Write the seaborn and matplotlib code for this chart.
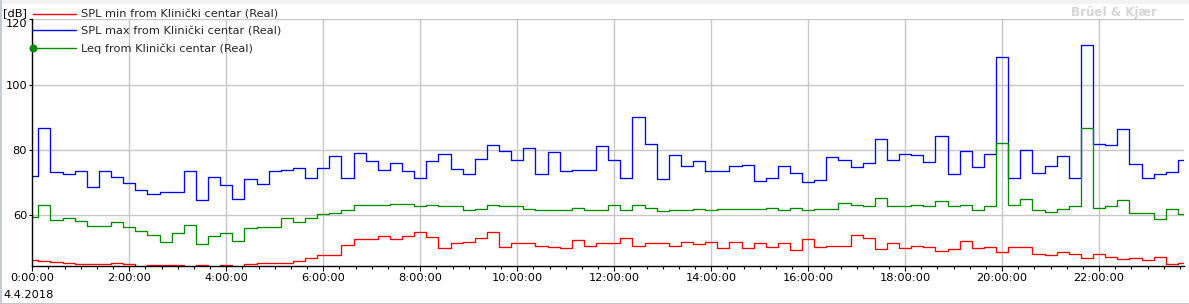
import numpy as np
import pandas as pd
import matplotlib
matplotlib.use("Agg")
import matplotlib.pyplot as plt
import matplotlib.ticker as mticker
from matplotlib.patches import Rectangle
import seaborn as sns

# ---- data: 15-minute intervals on 4.4.2018, values in dB ----
spl_max = [72.2, 86.9, 73.2, 72.6, 73.5, 68.6, 73.5, 71.9, 69.8, 67.7, 66.4, 67.3,
           67.3, 73.5, 64.6, 71.9, 69.2, 64.9, 71.0, 69.5, 73.5, 74.0, 74.4, 71.3,
           74.4, 78.1, 71.6, 79.0, 76.8, 73.8, 75.9, 73.5, 71.3, 76.8, 78.7, 74.1,
           72.6, 77.4, 81.4, 79.6, 77.1, 80.5, 72.6, 79.3, 73.5, 73.8, 73.8, 81.1,
           77.1, 71.3, 90.0, 82.0, 71.0, 78.4, 75.0, 76.8, 73.5, 73.5, 75.0, 75.3,
           70.4, 71.3, 75.0, 72.9, 70.1, 70.7, 77.8, 77.1, 74.7, 75.9, 83.3, 77.1,
           78.7, 78.4, 76.2, 84.2, 72.6, 79.6, 74.7, 78.7, 108.4, 71.6, 79.9, 72.9,
           75.0, 78.1, 71.3, 112.3, 82.0, 81.4, 86.3, 75.6, 71.6, 72.6, 73.2, 77.1]

leq = [59.4, 63.3, 58.5, 59.1, 58.2, 56.9, 56.9, 57.9, 56.3, 55.1, 53.9, 52.0,
       54.5, 57.2, 51.1, 53.6, 54.5, 52.3, 56.0, 56.6, 56.3, 59.1, 57.9, 59.1,
       60.3, 60.6, 61.8, 63.1, 63.1, 63.1, 63.4, 63.4, 62.8, 63.1, 62.8, 62.8,
       61.8, 62.1, 63.1, 62.8, 62.8, 62.1, 61.5, 61.8, 61.8, 62.4, 61.6, 61.8,
       63.1, 61.8, 63.1, 62.4, 61.2, 61.8, 61.5, 62.1, 61.8, 62.1, 62.1, 62.1,
       62.1, 62.4, 61.8, 62.4, 61.8, 62.1, 62.1, 63.7, 63.1, 62.8, 65.2, 62.8,
       62.8, 63.1, 62.8, 64.3, 62.8, 63.1, 61.8, 62.8, 82.3, 63.1, 64.9, 61.5,
       60.9, 62.1, 62.8, 86.9, 62.4, 62.8, 64.6, 60.6, 60.6, 58.8, 62.1, 60.3]

spl_min = [46.2, 45.9, 45.6, 45.3, 45.0, 45.0, 45.0, 45.3, 45.0, 44.3, 44.7, 44.7,
           44.7, 44.3, 44.7, 44.3, 44.7, 44.3, 45.0, 45.3, 45.3, 45.3, 45.9, 47.1,
           47.8, 47.8, 50.8, 52.7, 52.7, 53.6, 52.7, 53.6, 54.8, 53.3, 49.9, 51.4,
           52.0, 53.0, 54.8, 50.2, 51.7, 51.4, 50.5, 50.2, 49.9, 52.4, 50.5, 51.7,
           51.7, 53.0, 50.5, 51.7, 51.7, 50.5, 52.0, 51.1, 52.0, 49.9, 52.0, 49.9,
           51.4, 50.2, 51.7, 49.3, 52.7, 50.2, 50.5, 50.5, 53.9, 53.0, 49.6, 51.7,
           49.9, 50.5, 50.2, 49.0, 49.6, 52.3, 49.9, 50.2, 48.7, 50.2, 50.2, 48.1,
           47.8, 48.7, 48.1, 47.1, 48.1, 47.4, 46.8, 47.1, 46.2, 47.4, 45.0, 45.3]

hours = [i * 0.25 for i in range(len(spl_max))]   # 0:00 ... 23:45
series_labels = ["SPL min from Klinički centar (Real)",
                 "SPL max from Klinički centar (Real)",
                 "Leq from Klinički centar (Real)"]
date_label = "4.4.2018"
y_ticks = [60, 80, 100, 120]
x_major = list(range(0, 24, 2))

df = pd.DataFrame({"hour": hours, "min": spl_min, "max": spl_max, "leq": leq})

# ---- style ----
sns.set_theme(style="white")
plt.rcParams["font.family"] = ["DejaVu Sans"]
FS = 8.2
GREEN = "#008c00"

W, H = 1189, 304
fig = plt.figure(figsize=(W / 100, H / 100), dpi=100)
fig.patch.set_facecolor("white")
ax = fig.add_axes([32.3 / W, 1 - 265.7 / H, (1184 - 32.3) / W, (265.7 - 19.4) / H])
ax.set_facecolor("white")

lw = 0.95
sns.lineplot(data=df, x="hour", y="min", ax=ax, color="#ff0000", lw=lw,
             drawstyle="steps-mid", label=series_labels[0], zorder=3)
sns.lineplot(data=df, x="hour", y="max", ax=ax, color="#0000ff", lw=lw,
             drawstyle="steps-mid", label=series_labels[1], zorder=3)
sns.lineplot(data=df, x="hour", y="leq", ax=ax, color=GREEN, lw=lw,
             drawstyle="steps-mid", label=series_labels[2], zorder=4)

ax.set_xlim(0, 23.75)
ax.set_ylim(44.6, 120)
ax.set_xlabel("")
ax.set_ylabel("")

ax.xaxis.set_major_locator(mticker.FixedLocator(x_major))
ax.xaxis.set_minor_locator(mticker.MultipleLocator(1 / 3))
ax.xaxis.set_major_formatter(mticker.FuncFormatter(lambda v, p: f"{int(round(v))}:00:00"))
ax.yaxis.set_major_locator(mticker.FixedLocator(y_ticks))
ax.yaxis.set_major_formatter(mticker.FuncFormatter(lambda v, p: f"{int(v)}"))

ax.tick_params(axis="x", which="major", direction="out", length=3.6, width=0.8,
               color="black", labelsize=FS, pad=2, labelcolor="black", bottom=True)
ax.tick_params(axis="x", which="minor", direction="out", length=2.2, width=0.8,
               color="black", bottom=True)
ax.tick_params(axis="y", which="major", direction="out", length=2.2, width=0.8,
               color="black", labelsize=FS, pad=1.5, labelcolor="black", left=True)

ax.grid(True, which="major", color="#c8c8c8", lw=1.0)
ax.set_axisbelow(True)
for s in ["top", "right"]:
    ax.spines[s].set_visible(False)
for s in ["left", "bottom"]:
    ax.spines[s].set_color("black")
    ax.spines[s].set_linewidth(1.0)
    ax.spines[s].set_zorder(5)

# legend
leg = ax.legend(loc="upper left", bbox_to_anchor=(33 / W, 1 - 9.5 / H),
                bbox_transform=fig.transFigure, frameon=False, fontsize=FS,
                borderpad=0, borderaxespad=0, handlelength=3.77,
                handletextpad=0.44, labelspacing=0.6, numpoints=1)
hl = leg.legend_handles
hl[2].set_marker("o")
hl[2].set_markersize(5)
hl[2].set_markevery([0])
hl[2].set_markerfacecolor(GREEN)
hl[2].set_markeredgecolor(GREEN)
for h in hl:
    h.set_linewidth(1.0)

# texts
fig.text(3 / W, 1 - 13 / H, "[dB]", fontsize=FS, va="center", ha="left", color="black")
fig.text(3 / W, 1 - 295 / H, date_label, fontsize=FS, va="center", ha="left", color="black")
fig.text(1157 / W, 1 - 12.5 / H, "Brüel & Kjær", fontsize=8.6, fontweight="bold",
         va="center", ha="right", color="#d6d6d6")

# frame decorations
fig.patches.append(Rectangle((0, 1 - 4 / H), 1, 4 / H, transform=fig.transFigure,
                             facecolor="#f3f3f3", edgecolor="none", zorder=0))
fig.patches.append(Rectangle((0, 0), 1.5 / W, 1, transform=fig.transFigure,
                             facecolor="#c4ccd8", edgecolor="none", zorder=0))
fig.patches.append(Rectangle((0, 0), 1, 1.5 / H, transform=fig.transFigure,
                             facecolor="#c8c8c8", edgecolor="none", zorder=0))

# top tick label sits inside the axis range, as in the reference
fig.canvas.draw()
ax.yaxis.get_major_ticks()[-1].label1.set_verticalalignment("top")

fig.savefig("out.png", dpi=100)
